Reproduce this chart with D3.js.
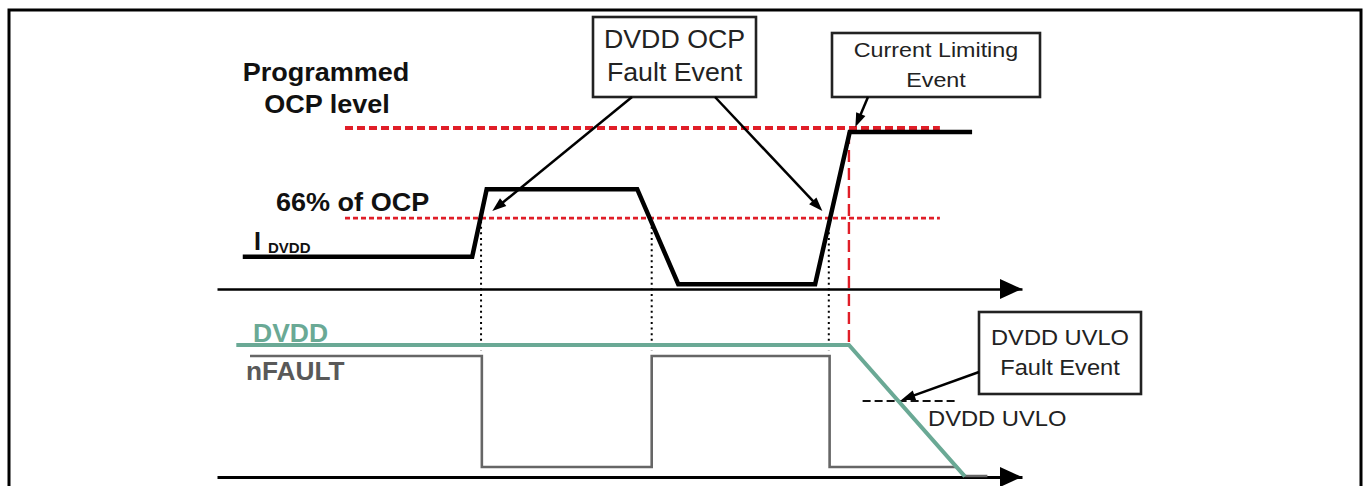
<!DOCTYPE html>
<meta charset="utf-8">
<script src="https://d3js.org/d3.v7.min.js"></script>
<style>
  body { margin: 0; background: #fff; }
  svg text { font-family: "Liberation Sans", Arial, sans-serif; }
</style>
<div id="my_dataviz"></div>
<script>
  // time axis in arbitrary units, levels in % of each panel's scale
  var idvddT = [3.2, 31.7, 33.5, 52.2, 57.3, 74.3, 78.6, 93.8];
  var idvddI = [20, 20, 62, 62, 3, 3, 97.5, 97.5];
  var dvddT = [2.4, 78.5, 92.9];
  var dvddV = [100, 100, 0.5];
  var nfaultT = [4.1, 32.9, 32.9, 54.0, 54.0, 76.1, 76.1, 91.9, 92.9, 95.7];
  var nfaultV = [91.7, 91.7, 7.6, 7.6, 91.7, 91.7, 7.6, 7.6, 0.8, 0.8];
  var ocpLevels = [100, 44];          // programmed OCP, 66% of OCP
  var ocpSpan = [15.9, 89.8];
  var crossT = [32.8, 54.0, 76.0];    // 66% crossings -> nFAULT edges
  var limitT = 78.5;
  var uvloLevel = 57.6;
  var uvloSpan = [80.2, 91.7];

  var W = 1370, H = 486;
  var svg = d3.select("#my_dataviz").append("svg")
      .attr("width", W).attr("height", H);

  var x = d3.scaleLinear().domain([0, 100]).range([217, 1022]);
  var yI = d3.scaleLinear().domain([0, 100]).range([289, 128]);
  var yV = d3.scaleLinear().domain([0, 100]).range([477, 345]);

  // frame
  svg.append("rect").attr("x", 9).attr("y", 10).attr("width", 1352).attr("height", 500)
      .attr("fill", "none").attr("stroke", "#000").attr("stroke-width", 3);

  // text helper (source text is slightly stretched horizontally)
  function label(tx, ty, str, size, weight, sx, anchor, color) {
    svg.append("text")
        .attr("transform", "translate(" + tx + "," + ty + ") scale(" + sx + ",1)")
        .attr("text-anchor", anchor || "start")
        .style("font-size", size + "px")
        .style("font-weight", weight)
        .attr("fill", color || "#111")
        .text(str);
  }

  function arrow(x1, y1, x2, y2, len, half, width) {
    var dx = x2 - x1, dy = y2 - y1, d = Math.sqrt(dx * dx + dy * dy);
    var ux = dx / d, uy = dy / d;
    var bx = x2 - ux * len, by = y2 - uy * len;
    svg.append("line").attr("x1", x1).attr("y1", y1)
        .attr("x2", x2 - ux * len * 0.6).attr("y2", y2 - uy * len * 0.6)
        .attr("stroke", "#000").attr("stroke-width", width);
    svg.append("polygon")
        .attr("points", [[x2, y2], [bx - uy * half, by + ux * half], [bx + uy * half, by - ux * half]].join(" "))
        .attr("fill", "#000");
  }

  // time axes
  var axisTop = svg.append("g").attr("transform", "translate(0," + yI(0) + ")")
      .call(d3.axisBottom(x).ticks(0).tickSizeOuter(0));
  axisTop.select(".domain").attr("stroke", "#000").attr("stroke-width", 2.5);
  var axisBot = svg.append("g").attr("transform", "translate(0," + yV(0) + ")")
      .call(d3.axisBottom(x).ticks(0).tickSizeOuter(0));
  axisBot.select(".domain").attr("stroke", "#000").attr("stroke-width", 3);
  [yI(0), yV(0)].forEach(function(yy) {
    svg.append("polygon")
        .attr("points", [[x(100), yy], [x(100) - 22, yy - 10], [x(100) - 22, yy + 10]].join(" "))
        .attr("fill", "#000");
  });

  // OCP threshold lines
  svg.selectAll(".ocp").data(ocpLevels).enter().append("line")
      .attr("x1", x(ocpSpan[0])).attr("x2", x(ocpSpan[1]))
      .attr("y1", function(d) { return yI(d); }).attr("y2", function(d) { return yI(d); })
      .attr("stroke", "#e01e28")
      .attr("stroke-width", function(d, i) { return i === 0 ? 4 : 2.6; })
      .attr("stroke-dasharray", function(d, i) { return i === 0 ? "8,4" : "5,3"; });

  // dotted edge markers
  svg.selectAll(".cross").data(crossT).enter().append("line")
      .attr("x1", function(d) { return x(d); }).attr("x2", function(d) { return x(d); })
      .attr("y1", yI(ocpLevels[1]) + 3).attr("y2", yV(96))
      .attr("stroke", "#000").attr("stroke-width", 2).attr("stroke-dasharray", "2,3.6");

  // current limit vertical
  svg.append("line")
      .attr("x1", x(limitT)).attr("x2", x(limitT))
      .attr("y1", yI(idvddI[6])).attr("y2", yV(100))
      .attr("stroke", "#e01e28").attr("stroke-width", 2.4).attr("stroke-dasharray", "12,6");

  // UVLO threshold
  svg.append("line")
      .attr("x1", x(uvloSpan[0])).attr("x2", x(uvloSpan[1]))
      .attr("y1", yV(uvloLevel)).attr("y2", yV(uvloLevel))
      .attr("stroke", "#111").attr("stroke-width", 2).attr("stroke-dasharray", "8,4");

  // waveforms
  var lineI = d3.line().x(function(d) { return x(d[0]); }).y(function(d) { return yI(d[1]); });
  var lineV = d3.line().x(function(d) { return x(d[0]); }).y(function(d) { return yV(d[1]); });

  svg.append("path").datum(d3.zip(nfaultT, nfaultV)).attr("d", lineV)
      .attr("fill", "none").attr("stroke", "#666").attr("stroke-width", 2.6);
  svg.append("path").datum(d3.zip(dvddT, dvddV)).attr("d", lineV)
      .attr("fill", "none").attr("stroke", "#6aa995").attr("stroke-width", 4);
  svg.append("path").datum(d3.zip(idvddT, idvddI)).attr("d", lineI)
      .attr("fill", "none").attr("stroke", "#000").attr("stroke-width", 4.5)
      .attr("stroke-linejoin", "miter");

  // side labels
  label(326, 81, "Programmed", 26, "bold", 1.04, "middle");
  label(327, 113, "OCP level", 26, "bold", 1.04, "middle");
  label(276, 211, "66% of OCP", 26, "bold", 1.04);
  label(254, 250, "I", 25, "bold", 1.0);
  label(268, 253, "DVDD", 15, "bold", 1.0);
  label(253, 342, "DVDD", 25, "bold", 1.06, "start", "#6aa995");
  label(246, 380, "nFAULT", 25, "bold", 1.05, "start", "#595959");
  label(928, 426, "DVDD UVLO", 22, "normal", 1.08, "start", "#222");

  // annotation boxes
  var boxes = [
    {x: 593, y: 17, w: 163, h: 80, lines: ["DVDD OCP", "Fault Event"], size: 25, sx: 1.07, base: [48, 81]},
    {x: 832, y: 33, w: 208, h: 64, lines: ["Current Limiting", "Event"], size: 21, sx: 1.11, base: [57, 87]},
    {x: 979, y: 312, w: 162, h: 82, lines: ["DVDD UVLO", "Fault Event"], size: 21.5, sx: 1.1, base: [345, 375]}
  ];
  boxes.forEach(function(b) {
    svg.append("rect").attr("x", b.x).attr("y", b.y).attr("width", b.w).attr("height", b.h)
        .attr("fill", "#fff").attr("stroke", "#222").attr("stroke-width", 2.6);
    b.lines.forEach(function(s, i) {
      label(b.x + b.w / 2, b.base[i], s, b.size, "normal", b.sx, "middle", "#222");
    });
  });

  // annotation arrows
  arrow(632, 97, x(34.2), yI(48.4), 14, 5, 2.5);
  arrow(715, 97, x(75.2), yI(48.4), 14, 5, 2.5);
  arrow(868, 97, x(79.3), yI(100.6), 14, 5, 2.5);
  arrow(979, 372, x(85.0), yV(58.3), 14, 5, 2.5);
</script>
